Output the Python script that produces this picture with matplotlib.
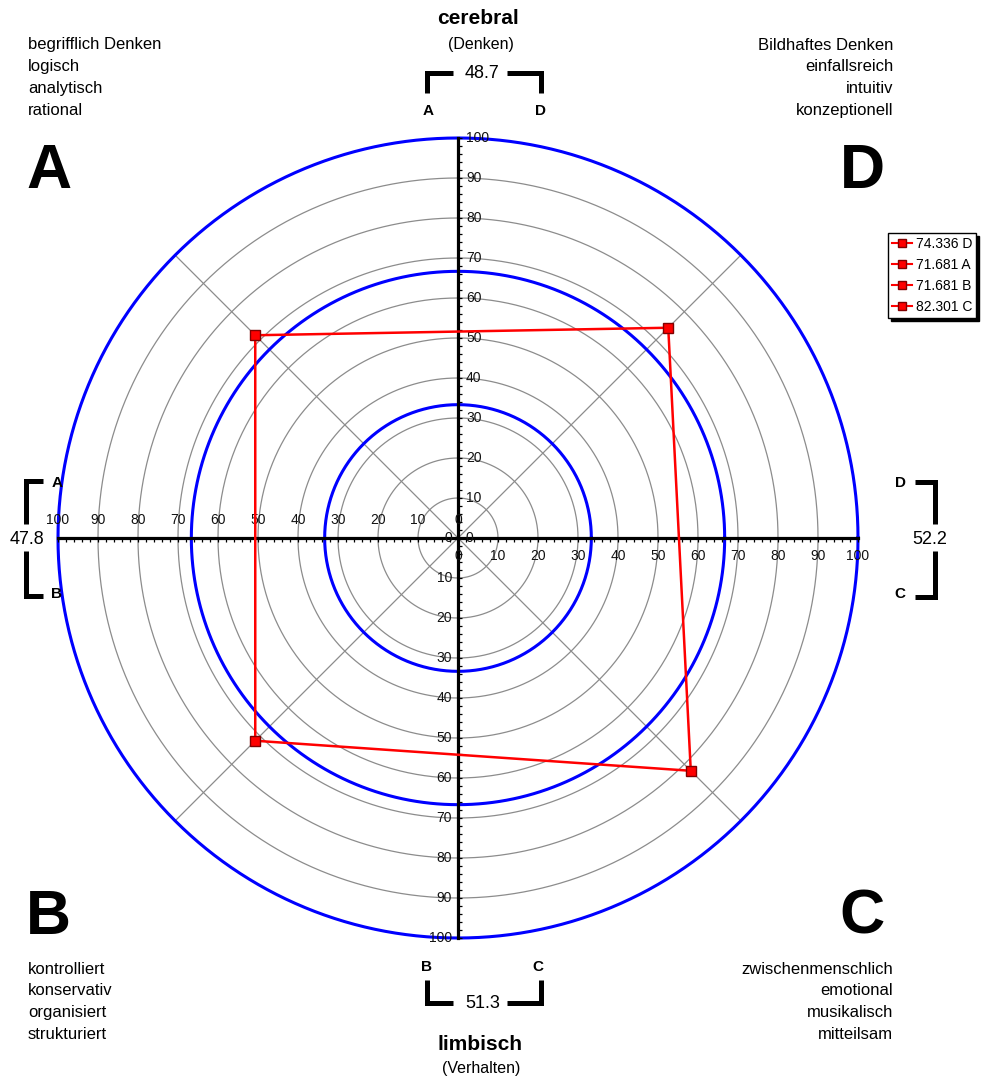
import numpy as np
import matplotlib
matplotlib.use("Agg")
import matplotlib.pyplot as plt
from matplotlib.lines import Line2D

plt.rcParams['font.family'] = ['Liberation Sans', 'DejaVu Sans']

# ---------------- data ----------------
quadrants = ["D", "A", "B", "C"]
angles_deg = [45, 135, 225, 315]
values = [74.336, 71.681, 71.681, 82.301]
ring_values = [10, 20, 30, 40, 50, 60, 70, 80, 90]
blue_rings = [100 / 3, 200 / 3, 100]
tick_labels = [0, 10, 20, 30, 40, 50, 60, 70, 80, 90, 100]
side_scores = {"top": 48.7, "bottom": 51.3, "left": 47.8, "right": 52.2}

texts_A = ["begrifflich Denken", "logisch", "analytisch", "rational"]
texts_D = ["Bildhaftes Denken", "einfallsreich", "intuitiv", "konzeptionell"]
texts_B = ["kontrolliert", "konservativ", "organisiert", "strukturiert"]
texts_C = ["zwischenmenschlich", "emotional", "musikalisch", "mitteilsam"]

# ---------------- figure ----------------
W, H = 983, 1077
CX, CY, S = 458, 538, 4.0  # centre pixel, pixels per unit
fig = plt.figure(figsize=(W / 100, H / 100), dpi=100)
ax = fig.add_axes([0, 0, 1, 1])
ax.set_xlim((0 - CX) / S, (W - CX) / S)
ax.set_ylim((CY - H) / S, (CY - 0) / S)
ax.axis('off')


def P(px, py):
    return (px - CX) / S, (CY - py) / S


t = np.linspace(0, 2 * np.pi, 721)
# grey rings
for r in ring_values:
    ax.plot(r * np.cos(t), r * np.sin(t), color='#8c8c8c', lw=0.9, zorder=1)
# diagonals
for a in angles_deg:
    ar = np.deg2rad(a)
    ax.plot([0, 100 * np.cos(ar)], [0, 100 * np.sin(ar)], color='#8c8c8c', lw=0.9, zorder=1)
# blue rings
for r in blue_rings:
    ax.plot(r * np.cos(t), r * np.sin(t), color='#0000ff', lw=2.2, zorder=2)

# axes cross
ax.plot([-100, 100], [0, 0], color='black', lw=2.3, zorder=3)
ax.plot([0, 0], [-100, 100], color='black', lw=2.3, zorder=3)
minor = np.arange(-100, 101, 2)
ax.vlines(minor, -1.0, 0, color='black', lw=0.9, zorder=3)
ax.hlines(minor, 0, 1.0, color='black', lw=0.9, zorder=3)

tk = dict(fontsize=10, color='#111111', zorder=4)
for v in tick_labels:
    ax.text(2.0, v, str(v), ha='left', va='center', **tk)
    ax.text(-1.5, -v, str(v), ha='right', va='center', **tk)
    ax.text(-v, 4.5, str(v), ha='center', va='center', **tk)
    ax.text(v, -4.5, str(v), ha='center', va='center', **tk)

# data polygon
ang = np.deg2rad(angles_deg)
xs = np.array(values) * np.cos(ang)
ys = np.array(values) * np.sin(ang)
ax.plot(np.append(xs, xs[0]), np.append(ys, ys[0]), color='#ff0000', lw=1.8, zorder=5)
ax.plot(xs, ys, ls='none', marker='s', markersize=7, markerfacecolor='#ff0000',
        markeredgecolor='#800000', markeredgewidth=1.0, zorder=6)

# legend
handles = [Line2D([], [], color='#ff0000', lw=1.5, marker='s', markersize=6,
                  markerfacecolor='#ff0000', markeredgecolor='#800000') for _ in values]
labels = [f"{v:.3f} {q}" for v, q in zip(values, quadrants)]
leg = fig.legend(handles, labels, loc='upper left',
                 bbox_to_anchor=(888 / W, 1 - 233 / H), bbox_transform=fig.transFigure,
                 frameon=True, fancybox=False, shadow={'color': 'black', 'alpha': 1},
                 edgecolor='black', framealpha=1, fontsize=10, borderpad=0.3,
                 handlelength=1.4, handletextpad=0.3, labelspacing=0.5, borderaxespad=0)
leg.get_frame().set_linewidth(1.0)

# corner texts
fs_c = 12
for i, s in enumerate(texts_A):
    ax.text(*P(28, 45 + 21.7 * i), s, ha='left', va='center', fontsize=fs_c)
for i, s in enumerate(texts_D):
    ax.text(*P(893, 45 + 21.7 * i), s, ha='right', va='center', fontsize=fs_c)
for i, s in enumerate(texts_B):
    ax.text(*P(28, 969 + 21.7 * i), s, ha='left', va='center', fontsize=fs_c)
for i, s in enumerate(texts_C):
    ax.text(*P(893, 969 + 21.7 * i), s, ha='right', va='center', fontsize=fs_c)

big = dict(fontsize=45, fontweight='bold', va='center')
ax.text(*P(26, 171), "A", ha='left', **big)
ax.text(*P(885, 171), "D", ha='right', **big)
ax.text(*P(26, 917), "B", ha='left', **big)
ax.text(*P(885, 917), "C", ha='right', **big)

# titles
ax.text(*P(478, 18), "cerebral", ha='center', va='center', fontsize=15, fontweight='bold')
ax.text(*P(481, 45), "(Denken)", ha='center', va='center', fontsize=11.5)
ax.text(*P(480, 1044), "limbisch", ha='center', va='center', fontsize=15, fontweight='bold')
ax.text(*P(481, 1068), "(Verhalten)", ha='center', va='center', fontsize=11.5)

bk = dict(color='black', lw=3.6, solid_joinstyle='miter', solid_capstyle='butt')
lab = dict(fontsize=11, fontweight='bold', ha='center', va='center')
num = dict(fontsize=13, ha='center', va='center')


def seg(pts):
    xy = [P(*p) for p in pts]
    ax.plot([q[0] for q in xy], [q[1] for q in xy], **bk)


# top bracket
seg([(427, 93), (427, 73), (453, 73)])
seg([(507, 73), (541, 73), (541, 93)])
ax.text(*P(482, 73), f"{side_scores['top']:.1f}", **num)
ax.text(*P(428, 111), "A", **lab)
ax.text(*P(540, 111), "D", **lab)
# bottom bracket
seg([(427, 980), (427, 1003), (453, 1003)])
seg([(507, 1003), (541, 1003), (541, 980)])
ax.text(*P(483, 1003), f"{side_scores['bottom']:.1f}", **num)
ax.text(*P(427, 967), "B", **lab)
ax.text(*P(538, 967), "C", **lab)
# left bracket
seg([(43, 481), (26, 481), (26, 524)])
seg([(26, 551), (26, 596), (43, 596)])
ax.text(*P(27, 539), f"{side_scores['left']:.1f}", **num)
ax.text(*P(57, 483), "A", **lab)
ax.text(*P(57, 594), "B", **lab)
# right bracket
seg([(915, 482), (935, 482), (935, 524)])
seg([(935, 551), (935, 597), (915, 597)])
ax.text(*P(930, 539), f"{side_scores['right']:.1f}", **num)
ax.text(*P(900, 483), "D", **lab)
ax.text(*P(900, 594), "C", **lab)

fig.savefig("out.png", dpi=100, facecolor='white')
